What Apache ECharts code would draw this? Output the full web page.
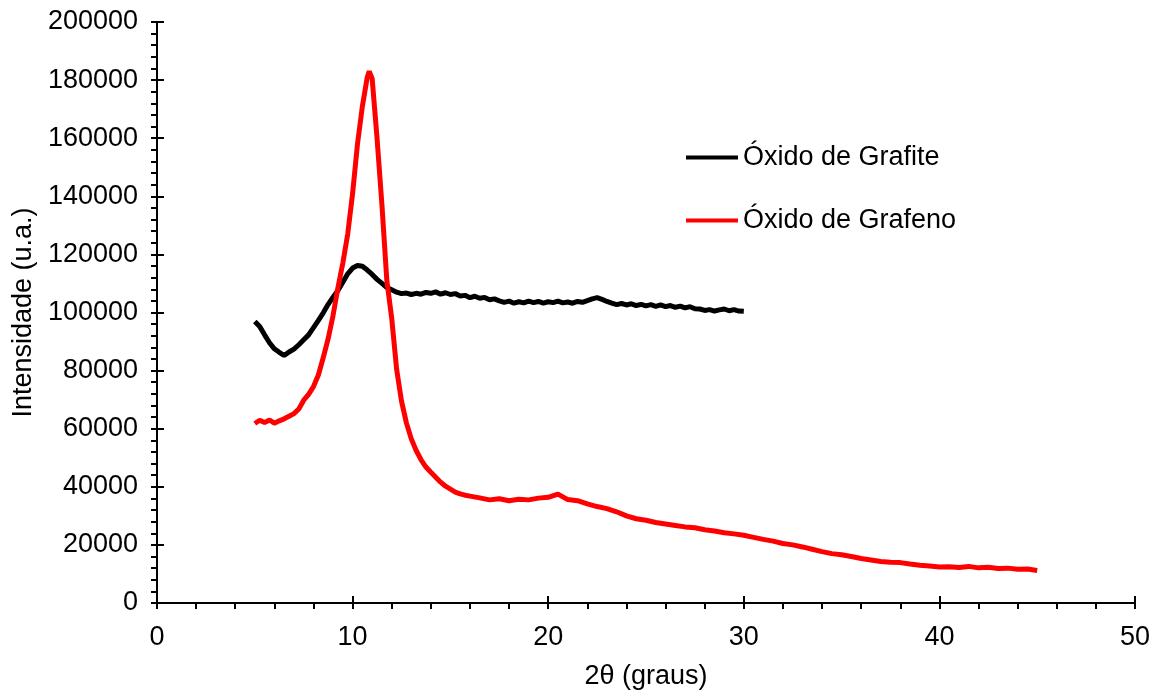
<!DOCTYPE html>
<html>
<head>
<meta charset="utf-8">
<script src="https://cdn.jsdelivr.net/npm/echarts@6/dist/echarts.min.js"></script>
<style>
html,body{margin:0;padding:0;background:#fff;}
#chart{width:1160px;height:695px;}
</style>
</head>
<body>
<div id="chart"></div>
<script>
// ---- Data ----
const seriesNames = ['Óxido de Grafite', 'Óxido de Grafeno'];
const xTitle = '2θ (graus)';
const yTitle = 'Intensidade (u.a.)';

const xGraphite = [5,5.25,5.5,5.75,6,6.25,6.5,6.75,7,7.25,7.5,7.75,8,8.25,8.5,8.75,9,9.25,9.5,9.75,
  10,10.25,10.5,10.75,11,11.25,11.5,11.75,12,12.25,12.5,12.75,13,13.25,13.5,13.75,14,14.25,14.5,14.75,
  15,15.25,15.5,15.75,16,16.25,16.5,16.75,17,17.25,17.5,17.75,18,18.25,18.5,18.75,19,19.25,19.5,19.75,
  20,20.25,20.5,20.75,21,21.25,21.5,21.75,22,22.25,22.5,22.75,23,23.25,23.5,23.75,24,24.25,24.5,24.75,
  25,25.25,25.5,25.75,26,26.25,26.5,26.75,27,27.25,27.5,27.75,28,28.25,28.5,28.75,29,29.25,29.5,29.75,30];
const yGraphite = [96900,95200,92300,89600,87500,86300,85200,86400,87400,88900,90600,92300,94800,97300,99900,102800,105300,107600,110400,113300,
  115300,116200,115900,114600,113100,111400,110000,108600,107800,107000,106500,106700,106200,106600,106300,106900,106600,107100,106300,106800,
  106200,106500,105700,105900,105100,105600,104900,105200,104400,104700,104000,103500,103900,103200,103700,103300,103900,103400,103800,103200,
  103700,103400,103900,103300,103600,103200,103800,103500,104100,104700,105100,104500,103800,103200,102700,103100,102600,103000,102400,102800,
  102300,102700,102100,102600,102000,102400,101800,102200,101600,102000,101300,101200,100700,101000,100500,100900,101200,100600,101000,100500,100400];

const xGraphene = [5,5.25,5.5,5.75,6,6.25,6.5,6.75,7,7.25,7.5,7.75,8,8.25,8.5,8.75,9,9.25,9.5,9.75,
  10,10.25,10.5,10.75,10.85,11,11.25,11.5,11.75,12,12.25,12.5,12.75,13,13.25,13.5,13.75,14,14.25,14.5,14.75,
  15,15.25,15.5,15.75,16,16.5,17,17.5,18,18.5,19,19.5,20,20.5,21,21.5,22,22.5,23,23.5,24,24.5,
  25,25.5,26,26.5,27,27.5,28,28.5,29,29.5,30,30.5,31,31.5,32,32.5,33,33.5,34,34.5,35,35.5,36,36.5,
  37,37.5,38,38.5,39,39.5,40,40.5,41,41.5,42,42.5,43,43.5,44,44.5,45];
const yGraphene = [61800,62900,62100,63000,61900,62700,63400,64300,65200,66800,69800,71800,74500,78500,84500,91000,99000,108500,117000,127000,
  141000,158000,171000,181000,183000,180500,160000,137000,111000,98000,80500,69500,62000,56500,52500,49300,46800,45000,43300,41600,40200,
  39200,38200,37600,37100,36800,36200,35500,35900,35200,35700,35500,36100,36400,37500,35600,35200,34100,33200,32500,31400,30000,29000,
  28500,27700,27200,26700,26200,25900,25200,24800,24200,23800,23300,22600,21900,21300,20500,20000,19300,18500,17700,17000,16600,16000,15300,14800,
  14300,14000,13900,13400,13000,12700,12400,12500,12200,12600,12100,12300,11900,12000,11600,11700,11200];

// ---- Chart ----
const FONT = '"Liberation Sans", Arial, sans-serif';
const FS = 27;
const pairs = (xs, ys) => xs.map((x, i) => [x, ys[i]]);

const chart = echarts.init(document.getElementById('chart'), null, {renderer: 'canvas'});
const axisLineStyle = {color: '#000', width: 2};

chart.setOption({
  animation: false,
  backgroundColor: '#fff',
  textStyle: {fontFamily: FONT, color: '#000'},
  grid: {left: 157, right: 25, top: 22, bottom: 89, containLabel: false},
  legend: {
    orient: 'vertical', left: 686, top: 144, padding: 0, itemWidth: 52, itemHeight: 4, itemGap: 36,
    textStyle: {fontFamily: FONT, fontSize: FS, color: '#000'},
    data: [{name: seriesNames[0], icon: 'rect'}, {name: seriesNames[1], icon: 'rect'}]
  },
  xAxis: [{
    type: 'value', min: 0, max: 50, interval: 10,
    name: xTitle, nameLocation: 'middle', nameGap: 60,
    nameTextStyle: {fontFamily: FONT, fontSize: FS, color: '#000'},
    axisLine: {show: true, onZero: false, lineStyle: axisLineStyle},
    axisTick: {show: true, inside: false, length: 6, lineStyle: axisLineStyle},
    minorTick: {show: true, splitNumber: 5, length: 6, lineStyle: axisLineStyle},
    axisLabel: {fontFamily: FONT, fontSize: FS, color: '#000', margin: 21},
    splitLine: {show: false}
  }, {
    type: 'value', min: 0, max: 50, interval: 10, position: 'bottom',
    axisLine: {show: false},
    axisTick: {show: true, inside: true, length: 7, lineStyle: axisLineStyle},
    axisLabel: {show: false}, splitLine: {show: false}
  }],
  yAxis: [{
    type: 'value', min: 0, max: 200000, interval: 20000,
    name: yTitle, nameLocation: 'middle', nameGap: 117, nameRotate: 90,
    nameTextStyle: {fontFamily: FONT, fontSize: FS, color: '#000'},
    axisLine: {show: true, onZero: false, lineStyle: axisLineStyle},
    axisTick: {show: true, inside: false, length: 6, lineStyle: axisLineStyle},
    minorTick: {show: true, splitNumber: 5, length: 6, lineStyle: axisLineStyle},
    axisLabel: {fontFamily: FONT, fontSize: FS, color: '#000', margin: 19,
      formatter: v => String(v)},
    splitLine: {show: false}
  }, {
    type: 'value', min: 0, max: 200000, interval: 20000, position: 'left',
    axisLine: {show: false},
    axisTick: {show: true, inside: true, length: 7, lineStyle: axisLineStyle},
    axisLabel: {show: false}, splitLine: {show: false}
  }],
  series: [{
    name: seriesNames[0], type: 'line', xAxisIndex: 0, yAxisIndex: 0,
    data: pairs(xGraphite, yGraphite), showSymbol: false, symbol: 'none',
    lineStyle: {color: '#000', width: 5}, itemStyle: {color: '#000'}, z: 3
  }, {
    name: seriesNames[1], type: 'line', xAxisIndex: 0, yAxisIndex: 0,
    data: pairs(xGraphene, yGraphene), showSymbol: false, symbol: 'none',
    lineStyle: {color: '#ff0000', width: 5}, itemStyle: {color: '#ff0000'}, z: 4
  }]
});
</script>
</body>
</html>
